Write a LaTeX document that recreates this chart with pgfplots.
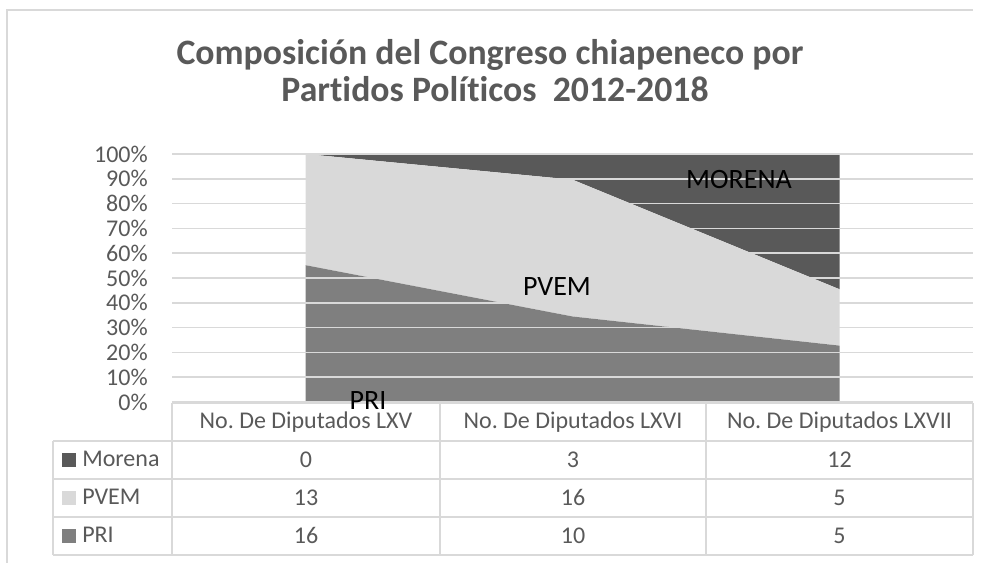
\documentclass[border=0pt]{standalone}
\usepackage{pgfplots}
\pgfplotsset{compat=1.18}
\usepackage{fontspec}
\setmainfont[Ligatures={NoCommon}]{Carlito}
\definecolor{txt}{HTML}{595959}
\definecolor{gridc}{HTML}{D9D9D9}
\definecolor{morena}{HTML}{595959}
\definecolor{pvem}{HTML}{D9D9D9}
\definecolor{pri}{HTML}{7F7F7F}
\begin{document}
\frenchspacing
\begin{tikzpicture}[x=0.75pt,y=-0.75pt]
\path[use as bounding box] (0,0) rectangle (983,563);
\coordinate (A) at (172,402);
% outer frame
\draw[gridc, line width=1pt] (7,563) -- (7,10) -- (973,10);
% title
\node[anchor=base, text=txt, font=\fontsize{26.8}{30}\selectfont\bfseries] at (490,65) {Composición del Congreso chiapeneco por};
\node[anchor=base, text=txt, font=\fontsize{26.8}{30}\selectfont\bfseries] at (495,102) {Partidos Políticos\ \ 2012-2018};
\begin{axis}[
  at={(A)}, anchor=south west,
  scale only axis, width=600.75pt, height=186pt,
  xmin=-0.5, xmax=2.5, ymin=0, ymax=100,
  axis line style={draw=none},
  xtick=\empty,
  ytick={0,10,...,100},
  yticklabel={\pgfmathprintnumber{\tick}\%},
  /pgf/number format/assume math mode=true,
  ymajorgrids, grid style={color=gridc, line width=1.1pt},
  major tick length=0pt,
  yticklabel style={font=\fontsize{18}{20}\selectfont, text=txt, anchor=east, inner sep=0pt, xshift=-18pt},
  stack plots=y, area style,
  clip=false,
]
\addplot[fill=pri, draw=none] coordinates {(0,55.17) (1,34.48) (2,22.73)} \closedcycle;
\addplot[fill=pvem, draw=none] coordinates {(0,44.83) (1,55.17) (2,22.73)} \closedcycle;
\addplot[fill=morena, draw=none] coordinates {(0,0) (1,10.34) (2,54.55)} \closedcycle;
\end{axis}
% data table
\begin{scope}[gridc, line width=1.1pt]
\draw (172,403) -- (973,403);
\draw (53,441) -- (973,441);
\draw (53,479) -- (973,479);
\draw (53,517) -- (973,517);
\draw (53,555) -- (973,555);
\draw (53,441) -- (53,555);
\draw (172,403) -- (172,555);
\draw (440,403) -- (440,555);
\draw (706,403) -- (706,555);
\draw (973,403) -- (973,555);
\end{scope}
\begin{scope}[every node/.style={anchor=base, text=txt, font=\fontsize{18}{20}\selectfont}]
\node at (306,428) {No. De Diputados LXV};
\node at (573,428) {No. De Diputados LXVI};
\node at (839.5,428) {No. De Diputados LXVII};
\node at (306,467) {0};
\node at (573,467) {3};
\node at (839.5,467) {12};
\node at (306,505) {13};
\node at (573,505) {16};
\node at (839.5,505) {5};
\node at (306,543) {16};
\node at (573,543) {10};
\node at (839.5,543) {5};
\end{scope}
\fill[morena] (62,453) rectangle (76,467);
\fill[pvem] (62,491) rectangle (76,505);
\fill[pri] (62,529) rectangle (76,543);
\begin{scope}[every node/.style={anchor=base west, text=txt, font=\fontsize{18}{20}\selectfont, inner sep=0pt}]
\node at (82,466) {Morena};
\node at (82,504) {PVEM};
\node at (82,542) {PRI};
\end{scope}
% category labels
\node[anchor=base, font=\fontsize{21}{24}\selectfont] at (368,410) {PRI};
\node[anchor=base, font=\fontsize{21}{24}\selectfont] at (557,296) {PVEM};
\node[anchor=base, font=\fontsize{21}{24}\selectfont] at (739,189) {MORENA};
\end{tikzpicture}
\end{document}
